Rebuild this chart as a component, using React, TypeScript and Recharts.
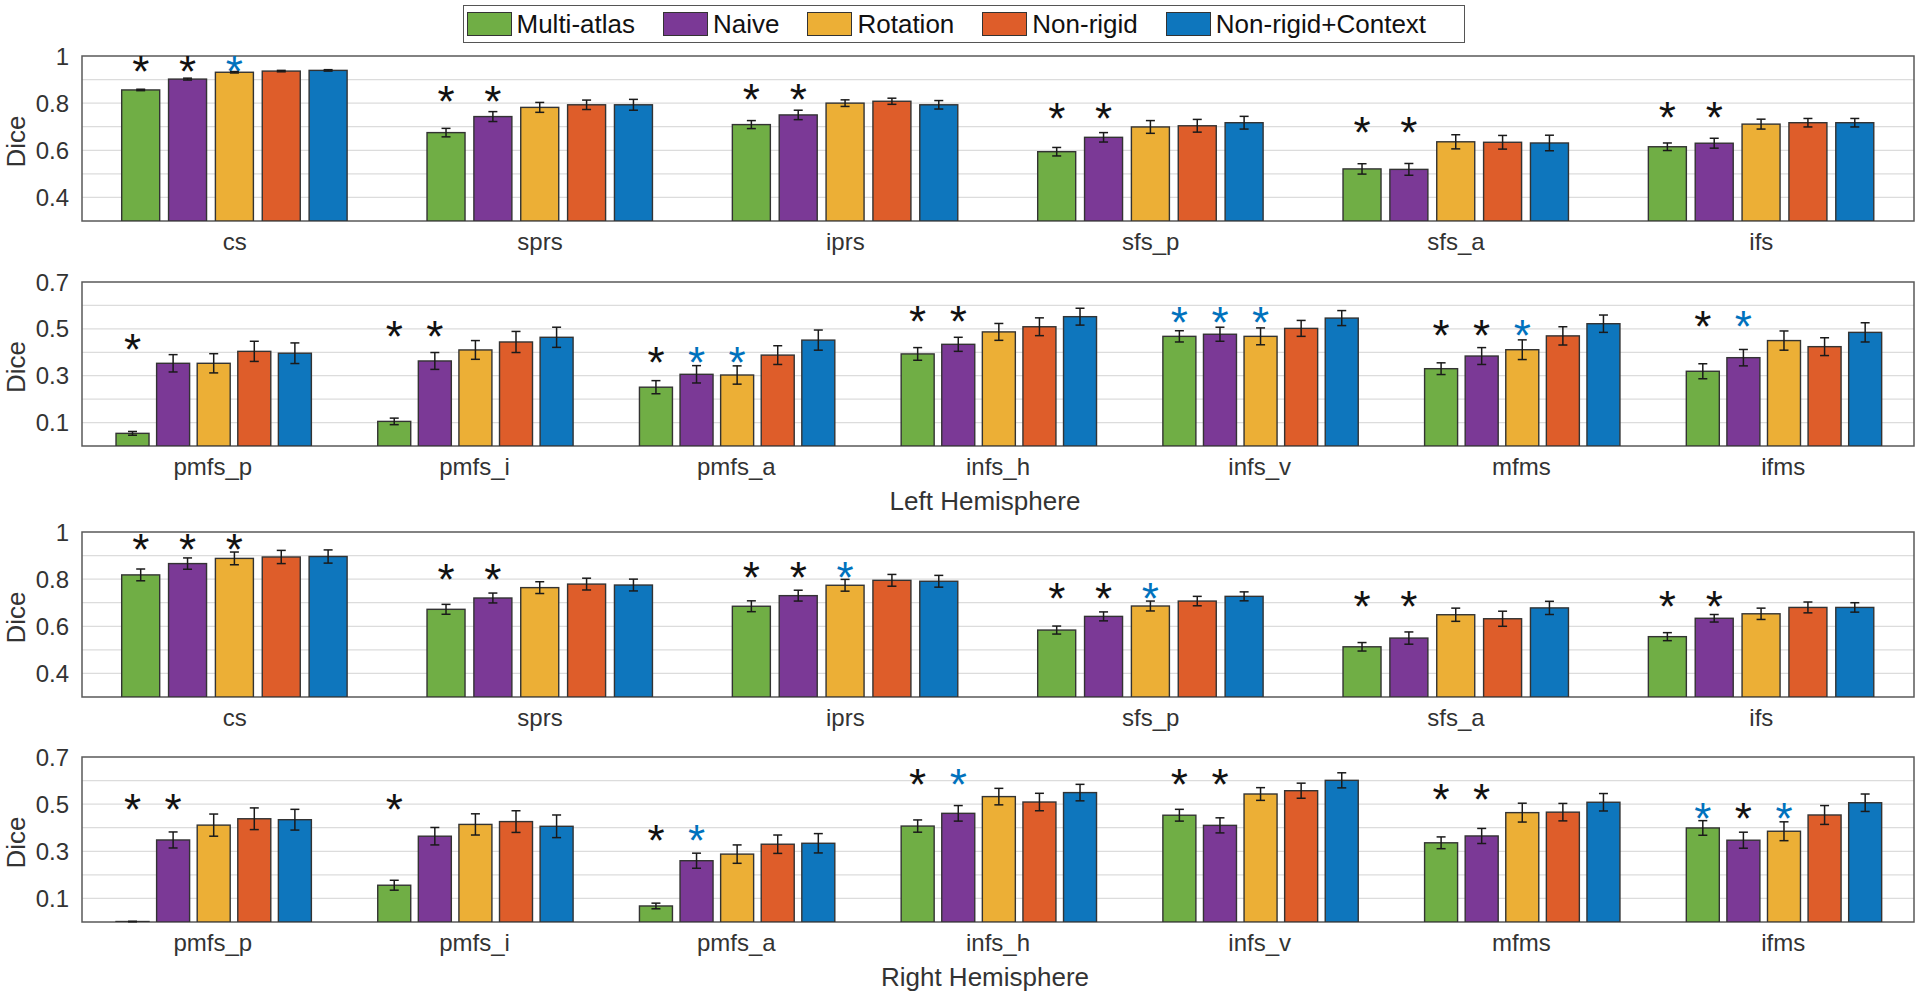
import React from 'react';
import { BarChart, Bar, XAxis, YAxis, CartesianGrid, ErrorBar, ReferenceArea, Legend, Label } from 'recharts';

const FONT = '"Liberation Sans", Arial, Helvetica, sans-serif';
const TEXT = '#333333';

// methods and colours
const SERIES = ['Multi-atlas', 'Naive', 'Rotation', 'Non-rigid', 'Non-rigid+Context'];
const COLORS = ['#70AE45', '#7B3996', '#ECAF36', '#DE5D2A', '#0E76BD'];

// sulci
const SULCI_A = ['cs', 'sprs', 'iprs', 'sfs_p', 'sfs_a', 'ifs'];
const SULCI_B = ['pmfs_p', 'pmfs_i', 'pmfs_a', 'infs_h', 'infs_v', 'mfms', 'ifms'];

// axis ticks and gridlines
const TICKS_A = [0.4, 0.6, 0.8, 1];
const GRID_A = [0.4, 0.5, 0.6, 0.7, 0.8, 0.9];
const TICKS_B = [0.1, 0.3, 0.5, 0.7];
const GRID_B = [0.1, 0.2, 0.3, 0.4, 0.5, 0.6];

// Left hemisphere, row 1 (one row per method)
const leftAMean = [
  [0.856, 0.675, 0.709, 0.594, 0.521, 0.615],
  [0.902, 0.743, 0.75, 0.655, 0.519, 0.63],
  [0.931, 0.782, 0.8, 0.699, 0.636, 0.711],
  [0.936, 0.793, 0.808, 0.704, 0.634, 0.717],
  [0.939, 0.793, 0.793, 0.717, 0.631, 0.717],
];
const leftAErr = [
  [0.003, 0.018, 0.017, 0.018, 0.022, 0.016],
  [0.004, 0.021, 0.02, 0.02, 0.025, 0.021],
  [0.003, 0.021, 0.014, 0.027, 0.03, 0.021],
  [0.003, 0.02, 0.013, 0.027, 0.029, 0.018],
  [0.003, 0.023, 0.018, 0.027, 0.033, 0.018],
];
// 0 = none, 1 = black asterisk, 2 = blue asterisk
const leftASig = [
  [1, 1, 1, 1, 1, 1],
  [1, 1, 1, 1, 1, 1],
  [2, 0, 0, 0, 0, 0],
  [0, 0, 0, 0, 0, 0],
  [0, 0, 0, 0, 0, 0],
];
const leftAStar = [0.976, 0.849, 0.856, 0.776, 0.717, 0.778];

// Left hemisphere, row 2
const leftBMean = [
  [0.054, 0.105, 0.251, 0.393, 0.468, 0.33, 0.319],
  [0.353, 0.363, 0.306, 0.434, 0.477, 0.384, 0.377],
  [0.353, 0.41, 0.303, 0.487, 0.468, 0.411, 0.45],
  [0.404, 0.444, 0.388, 0.509, 0.502, 0.47, 0.424],
  [0.396, 0.464, 0.452, 0.552, 0.546, 0.522, 0.485],
];
const leftBErr = [
  [0.008, 0.014, 0.028, 0.027, 0.024, 0.025, 0.032],
  [0.037, 0.036, 0.037, 0.03, 0.03, 0.036, 0.035],
  [0.041, 0.04, 0.039, 0.036, 0.036, 0.042, 0.041],
  [0.043, 0.045, 0.04, 0.038, 0.034, 0.039, 0.038],
  [0.044, 0.043, 0.043, 0.036, 0.032, 0.037, 0.041],
];
const leftBSig = [
  [1, 1, 1, 1, 2, 1, 1],
  [0, 1, 2, 1, 2, 1, 2],
  [0, 0, 2, 0, 2, 2, 0],
  [0, 0, 0, 0, 0, 0, 0],
  [0, 0, 0, 0, 0, 0, 0],
];
const leftBStar = [0.452, 0.509, 0.396, 0.573, 0.566, 0.514, 0.549];

// Right hemisphere, row 1
const rightAMean = [
  [0.818, 0.672, 0.685, 0.584, 0.513, 0.556],
  [0.866, 0.72, 0.73, 0.642, 0.55, 0.634],
  [0.888, 0.764, 0.774, 0.686, 0.649, 0.653],
  [0.894, 0.779, 0.795, 0.707, 0.632, 0.68],
  [0.896, 0.775, 0.791, 0.727, 0.678, 0.68],
];
const rightAErr = [
  [0.025, 0.021, 0.023, 0.017, 0.018, 0.017],
  [0.024, 0.021, 0.023, 0.019, 0.026, 0.016],
  [0.027, 0.025, 0.025, 0.021, 0.028, 0.024],
  [0.028, 0.025, 0.025, 0.02, 0.032, 0.023],
  [0.028, 0.025, 0.025, 0.019, 0.028, 0.02],
];
const rightASig = [
  [1, 1, 1, 1, 1, 1],
  [1, 1, 1, 1, 1, 1],
  [1, 0, 2, 2, 0, 0],
  [0, 0, 0, 0, 0, 0],
  [0, 0, 0, 0, 0, 0],
];
const rightAStar = [0.966, 0.839, 0.846, 0.757, 0.726, 0.726];

// Right hemisphere, row 2
const rightBMean = [
  [0.002, 0.156, 0.068, 0.407, 0.453, 0.336, 0.399],
  [0.348, 0.364, 0.26, 0.461, 0.41, 0.365, 0.347],
  [0.411, 0.414, 0.288, 0.532, 0.543, 0.464, 0.385],
  [0.438, 0.426, 0.33, 0.509, 0.557, 0.466, 0.454],
  [0.434, 0.406, 0.334, 0.549, 0.601, 0.508, 0.506],
];
const rightBErr = [
  [0.001, 0.021, 0.012, 0.026, 0.025, 0.025, 0.031],
  [0.034, 0.037, 0.032, 0.033, 0.032, 0.032, 0.034],
  [0.047, 0.045, 0.039, 0.035, 0.027, 0.04, 0.04],
  [0.046, 0.046, 0.039, 0.037, 0.032, 0.037, 0.04],
  [0.044, 0.048, 0.041, 0.035, 0.032, 0.037, 0.037],
];
const rightBSig = [
  [1, 1, 1, 1, 1, 1, 2],
  [1, 0, 2, 2, 1, 1, 1],
  [0, 0, 0, 0, 0, 0, 2],
  [0, 0, 0, 0, 0, 0, 0],
  [0, 0, 0, 0, 0, 0, 0],
];
const rightBStar = [0.518, 0.518, 0.387, 0.624, 0.624, 0.56, 0.479];

// one row per sulcus: m0..m4 means, e0..e4 errors, s0..s4 markers
function buildRows(cats: string[], mean: number[][], err: number[][], sig: number[][], star: number[]) {
  return cats.map((name, c) => {
    const row: any = { name, star: star[c] };
    SERIES.forEach((_, i) => {
      row[`m${i}`] = mean[i][c];
      row[`e${i}`] = err[i][c];
      row[`s${i}`] = sig[i][c];
    });
    return row;
  });
}

// bar with its significance asterisk above the group
const makeShape = (si: number, domain: [number, number]) => (p: any) => {
  const { x, y, width, height, background, payload } = p;
  const sig = payload[`s${si}`];
  let star = null;
  if (sig && background) {
    const sy = background.y + ((domain[1] - payload.star) / (domain[1] - domain[0])) * background.height;
    star = (
      <text x={x + width / 2} y={sy + 25} textAnchor="middle" fontSize={44} fontFamily={FONT}
        fill={sig === 2 ? '#0072BD' : '#111111'}>*</text>
    );
  }
  return (
    <g>
      <rect x={x} y={y} width={width} height={Math.max(height, 0.5)} fill={COLORS[si]} stroke="#333333" strokeWidth={1.4} />
      {star}
    </g>
  );
};

const LegendBox = () => (
  <div style={{
    display: 'flex', alignItems: 'center', width: 1002, height: 38, boxSizing: 'border-box',
    border: '1.5px solid #555555', background: '#ffffff', paddingLeft: 2.5,
    fontFamily: FONT, fontSize: 26, color: '#111111',
  }}>
    {SERIES.map((s, i) => (
      <div key={s} style={{ display: 'flex', alignItems: 'center', marginLeft: i ? 28 : 0 }}>
        <span style={{ display: 'inline-block', width: 45, height: 24, boxSizing: 'border-box', background: COLORS[i], border: '1.5px solid #333333', marginRight: 5 }} />
        <span style={{ whiteSpace: 'nowrap' }}>{s}</span>
      </div>
    ))}
  </div>
);

interface PanelProps {
  rows: any[];
  domain: [number, number];
  ticks: number[];
  grid: number[];
  top: number;
  height: number;
  marginTop: number;
  xAxisHeight: number;
  xLabel?: string;
  legend?: boolean;
}

function Panel({ rows, domain, ticks, grid, top, height, marginTop, xAxisHeight, xLabel, legend }: PanelProps) {
  return (
    <div style={{ position: 'absolute', left: 0, top }}>
      <BarChart
        width={1920}
        height={height}
        data={rows}
        margin={{ top: marginTop, right: 6, bottom: 0, left: 0 }}
        barCategoryGap="13%"
        barGap="2.9%"
      >
        <CartesianGrid vertical={false} horizontalValues={grid} stroke="#DCDCDC" strokeWidth={1.2} />
        <XAxis
          dataKey="name"
          height={xAxisHeight}
          axisLine={false}
          tickLine={false}
          tickSize={0}
          tickMargin={12}
          interval={0}
          tick={{ fontSize: 24, fill: TEXT, fontFamily: FONT }}
        >
          {xLabel && (
            <Label value={xLabel} position="insideBottom" offset={6} dx={-13}
              fontSize={26} fill={TEXT} fontFamily={FONT} />
          )}
        </XAxis>
        <YAxis
          type="number"
          domain={domain}
          ticks={ticks}
          allowDataOverflow
          width={82}
          axisLine={false}
          tickLine={false}
          tickSize={0}
          tickMargin={13}
          tick={{ fontSize: 24, fill: TEXT, fontFamily: FONT }}
        >
          <Label value="Dice" angle={-90} position="center" dx={-25} dy={3} fontSize={26} fill={TEXT} fontFamily={FONT} />
        </YAxis>
        <ReferenceArea y1={domain[0]} y2={domain[1]} fill="none" fillOpacity={0} stroke="#5A5A5A" strokeWidth={1.5} />
        {SERIES.map((s, i) => (
          <Bar key={s} dataKey={`m${i}`} name={s} fill={COLORS[i]} isAnimationActive={false} shape={makeShape(i, domain)}>
            <ErrorBar dataKey={`e${i}`} width={4.5} stroke="#1A1A1A" strokeWidth={1.5} direction="y" />
          </Bar>
        ))}
        {legend && (
          <Legend
            layout="horizontal"
            verticalAlign="middle"
            align="center"
            content={LegendBox}
            wrapperStyle={{ left: 463, top: 5, width: 1002, height: 38 }}
          />
        )}
      </BarChart>
    </div>
  );
}

export default function App() {
  return (
    <div style={{ position: 'absolute', left: 0, top: 0, width: 1920, height: 999, background: '#ffffff' }}>
      <Panel rows={buildRows(SULCI_A, leftAMean, leftAErr, leftASig, leftAStar)} domain={[0.3, 1]}
        ticks={TICKS_A} grid={GRID_A} top={0} height={261} marginTop={56} xAxisHeight={40} legend />
      <Panel rows={buildRows(SULCI_B, leftBMean, leftBErr, leftBSig, leftBStar)} domain={[0, 0.7]}
        ticks={TICKS_B} grid={GRID_B} top={262} height={254} marginTop={20} xAxisHeight={70} xLabel="Left Hemisphere" />
      <Panel rows={buildRows(SULCI_A, rightAMean, rightAErr, rightASig, rightAStar)} domain={[0.3, 1]}
        ticks={TICKS_A} grid={GRID_A} top={516} height={221} marginTop={16} xAxisHeight={40} />
      <Panel rows={buildRows(SULCI_B, rightBMean, rightBErr, rightBSig, rightBStar)} domain={[0, 0.7]}
        ticks={TICKS_B} grid={GRID_B} top={737} height={255} marginTop={20} xAxisHeight={70} xLabel="Right Hemisphere" />
    </div>
  );
}
